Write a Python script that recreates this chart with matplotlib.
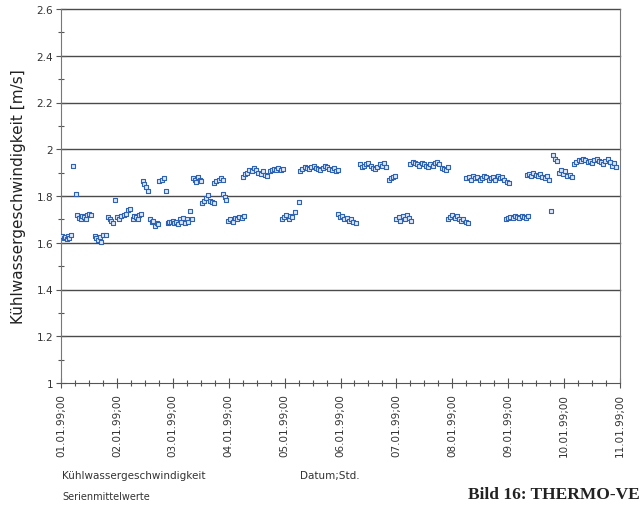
import matplotlib
matplotlib.use("Agg")
import matplotlib.pyplot as plt
import matplotlib.transforms as mtransforms
from matplotlib.ticker import MultipleLocator, FuncFormatter

# ---- data (time in days since 01.01.99;00, speed in m/s) ----
zeit_tage = [
    0.02, 0.05, 0.08, 0.10, 0.12, 0.15, 0.17,
    0.21, 0.27,
    0.29, 0.32, 0.35, 0.38, 0.41, 0.44, 0.47, 0.50, 0.53,
    0.60, 0.63, 0.66, 0.69, 0.72, 0.76, 0.80,
    0.96,
    0.84, 0.87, 0.90, 0.93,
    1.00, 1.04, 1.08, 1.12, 1.16, 1.20, 1.24,
    1.28, 1.31, 1.34, 1.37, 1.40, 1.43,
    1.46, 1.49, 1.52, 1.55,
    1.76, 1.80, 1.84, 1.87,
    1.59, 1.62, 1.65, 1.68, 1.71, 1.73,
    1.91, 1.94, 1.97, 2.00, 2.03, 2.06, 2.09,
    2.12, 2.15, 2.18, 2.21, 2.25, 2.28, 2.31, 2.34,
    2.36, 2.39, 2.42, 2.45, 2.48, 2.51,
    2.74, 2.78, 2.82, 2.86, 2.89,
    2.53, 2.56, 2.60, 2.63, 2.66, 2.70, 2.73,
    2.90, 2.93, 2.95,
    2.99, 3.03, 3.07, 3.11, 3.15, 3.19, 3.23, 3.27,
    3.25, 3.29, 3.33, 3.37, 3.41, 3.45, 3.49, 3.53, 3.57, 3.61,
    3.65, 3.69, 3.73, 3.77, 3.81, 3.85, 3.89, 3.93, 3.97,
    3.95, 3.99, 4.03, 4.07, 4.10, 4.14, 4.18,
    4.26,
    4.28, 4.32, 4.36, 4.40, 4.44, 4.48, 4.52, 4.56, 4.60,
    4.64, 4.68, 4.72, 4.76, 4.80, 4.84, 4.88, 4.92, 4.96,
    4.95, 4.99, 5.03, 5.07, 5.11, 5.15, 5.19, 5.23, 5.27,
    5.34, 5.38, 5.42, 5.46, 5.50, 5.54, 5.58, 5.62, 5.66, 5.70, 5.74, 5.78, 5.82,
    5.86, 5.90, 5.94, 5.97,
    6.00, 6.04, 6.07, 6.11, 6.15, 6.19, 6.23, 6.26,
    6.25, 6.29, 6.33, 6.37, 6.41, 6.45, 6.49, 6.53, 6.57,
    6.61, 6.65, 6.69, 6.73, 6.77, 6.81, 6.85, 6.89, 6.92,
    6.92, 6.96, 7.00, 7.04, 7.08, 7.12, 7.16, 7.20, 7.24, 7.28,
    7.25, 7.29, 7.33, 7.37, 7.41, 7.45, 7.49, 7.53, 7.57, 7.61,
    7.65, 7.69, 7.73, 7.77, 7.81, 7.85, 7.89, 7.93, 7.97, 8.01,
    7.96, 8.00, 8.04, 8.08, 8.12, 8.16, 8.20, 8.24, 8.28, 8.32, 8.36,
    8.33, 8.37, 8.41, 8.45, 8.49, 8.53, 8.57, 8.61, 8.65, 8.69, 8.73,
    8.80, 8.84, 8.88,
    8.77,
    8.90, 8.94, 8.98, 9.02, 9.06, 9.10, 9.14,
    9.18, 9.22, 9.26, 9.30, 9.34, 9.38, 9.42, 9.46, 9.50, 9.54,
    9.58, 9.62, 9.66, 9.70, 9.74, 9.78, 9.82, 9.86, 9.90, 9.93,
]

geschwindigkeit = [
    1.63, 1.62, 1.625, 1.615, 1.63, 1.62, 1.635,
    1.93, 1.81,
    1.72, 1.705, 1.70, 1.715, 1.71, 1.70, 1.72, 1.725, 1.72,
    1.63, 1.62, 1.61, 1.625, 1.605, 1.635, 1.635,
    1.785,
    1.71, 1.70, 1.695, 1.685,
    1.71, 1.70, 1.715, 1.72, 1.725, 1.74, 1.745,
    1.70, 1.715, 1.71, 1.70, 1.72, 1.725,
    1.865, 1.85, 1.84, 1.82,
    1.865, 1.87, 1.875, 1.82,
    1.70, 1.69, 1.695, 1.67, 1.685, 1.68,
    1.685, 1.69, 1.69, 1.695, 1.685, 1.69, 1.68,
    1.70, 1.69, 1.705, 1.685, 1.70, 1.69, 1.735, 1.70,
    1.875, 1.87, 1.86, 1.88, 1.87, 1.865,
    1.855, 1.865, 1.87, 1.875, 1.87,
    1.77, 1.78, 1.79, 1.805, 1.78, 1.775, 1.77,
    1.81, 1.795, 1.785,
    1.695, 1.70, 1.69, 1.705, 1.70, 1.71, 1.705, 1.715,
    1.88, 1.895, 1.90, 1.91, 1.905, 1.92, 1.91, 1.90, 1.895, 1.905,
    1.89, 1.885, 1.905, 1.91, 1.915, 1.91, 1.92, 1.91, 1.915,
    1.70, 1.71, 1.72, 1.70, 1.715, 1.71, 1.73,
    1.775,
    1.905, 1.915, 1.925, 1.92, 1.915, 1.925, 1.93, 1.92, 1.915,
    1.91, 1.92, 1.93, 1.925, 1.915, 1.91, 1.92, 1.905, 1.91,
    1.725, 1.71, 1.715, 1.70, 1.705, 1.695, 1.70, 1.69, 1.685,
    1.935, 1.925, 1.93, 1.935, 1.94, 1.93, 1.92, 1.915, 1.925, 1.935, 1.93, 1.94, 1.925,
    1.87, 1.875, 1.88, 1.885,
    1.70, 1.71, 1.695, 1.715, 1.70, 1.72, 1.705, 1.695,
    1.935, 1.945, 1.94, 1.935, 1.93, 1.94, 1.935, 1.93, 1.925,
    1.935, 1.93, 1.94, 1.945, 1.935, 1.92, 1.915, 1.91, 1.925,
    1.70, 1.71, 1.72, 1.705, 1.715, 1.70, 1.695, 1.70, 1.69, 1.685,
    1.875, 1.88, 1.87, 1.885, 1.875, 1.88, 1.87, 1.875, 1.885, 1.88,
    1.87, 1.875, 1.88, 1.87, 1.885, 1.875, 1.88, 1.87, 1.86, 1.855,
    1.70, 1.705, 1.71, 1.705, 1.715, 1.71, 1.705, 1.715, 1.71, 1.705, 1.715,
    1.89, 1.895, 1.885, 1.90, 1.89, 1.885, 1.895, 1.88, 1.875, 1.885, 1.87,
    1.975, 1.96, 1.95,
    1.735,
    1.90, 1.91, 1.895, 1.905, 1.885, 1.89, 1.88,
    1.935, 1.945, 1.955, 1.95, 1.96, 1.955, 1.945, 1.95, 1.94, 1.955,
    1.96, 1.95, 1.945, 1.935, 1.95, 1.96, 1.945, 1.93, 1.94, 1.925,
]

tick_labels = ["01.01.99;00", "02.01.99;00", "03.01.99;00", "04.01.99;00",
               "05.01.99;00", "06.01.99;00", "07.01.99;00", "08.01.99;00",
               "09.01.99;00", "10.01.99;00", "11.01.99;00"]
y_ticks = [1.0, 1.2, 1.4, 1.6, 1.8, 2.0, 2.2, 2.4, 2.6]

# ---- figure ----
fig = plt.figure(figsize=(6.44, 5.06), dpi=100)
ax = fig.add_axes([61/644, 1-384/506, (620-61)/644, (384-10)/506])

ax.scatter(zeit_tage, geschwindigkeit, marker="s", s=12,
           facecolors="#dfe9f8", edgecolors="#2e62b5", linewidths=0.8, zorder=3)

ax.set_xlim(0, 10)
ax.set_ylim(1.0, 2.6)

grid_col = "#4a4a4a"
ax.set_yticks(y_ticks)
ax.yaxis.set_minor_locator(MultipleLocator(0.1))
ax.yaxis.set_major_formatter(FuncFormatter(lambda v, p: f"{v:g}"))
for yv in y_ticks[1:]:
    ax.axhline(yv, color=grid_col, lw=1.0, zorder=1, clip_on=False)

ax.set_xticks(range(len(tick_labels)))
ax.set_xticklabels(tick_labels, rotation=90, va="top", ha="center")
ax.xaxis.set_minor_locator(MultipleLocator(0.25))
offset = mtransforms.ScaledTranslation(8/100, 0, fig.dpi_scale_trans)
for lab in ax.get_xticklabels():
    lab.set_transform(lab.get_transform() + offset)

ax.spines["top"].set_visible(False)
ax.spines["right"].set_color("#777777")
ax.spines["left"].set_color("#777777")
ax.spines["bottom"].set_color("#555555")

ax.tick_params(axis="both", which="major", direction="inout", length=7,
               width=0.8, color="#555555", labelsize=7.5, labelcolor="#333333")
ax.tick_params(axis="both", which="minor", direction="inout", length=4,
               width=0.8, color="#555555")
ax.tick_params(axis="y", which="major", pad=2)

ax.set_ylabel("Kühlwassergeschwindigkeit [m/s]", fontsize=11, color="#222222", labelpad=8)

fig.text(62/644, 1-476/506, "Kühlwassergeschwindigkeit", fontsize=7.5, color="#333333", va="center")
fig.text(300/644, 1-476/506, "Datum;Std.", fontsize=7.5, color="#333333", va="center")
fig.text(62/644, 1-497/506, "Serienmittelwerte", fontsize=7, color="#333333", va="center")
fig.text(640/644, 1-495/506, "Bild 16: THERMO-VE", fontsize=12.5, fontweight="bold",
         family="Liberation Serif", color="#222222", va="center", ha="right")

fig.savefig("out.png", dpi=100, facecolor="white")
